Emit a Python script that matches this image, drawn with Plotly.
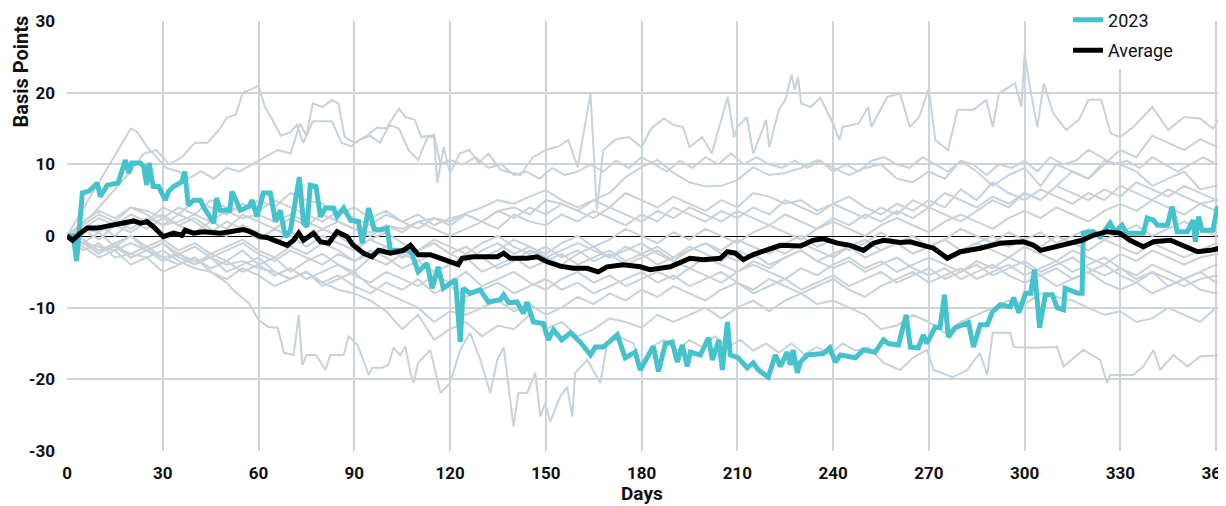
import plotly.graph_objects as go

# ---------------- data ----------------
# 2023 (day, basis points)
Y2023 = [(0,0),(2,0),(3,-3.5),(4.8,6.0),(7,6.3),(9.5,7.4),(10.4,5.5),(12.6,7.1),(16,7.4),(18.3,10.6),
 (19.3,8.8),(20.3,10.2),(23,10.2),(24,9.7),(25,7.1),(25.7,10.2),(27,6.9),(28.7,6.9),(30.8,5.0),(31.8,6.2),
 (33.4,6.9),(36,7.6),(36.9,9.0),(38,4.3),(39.7,5.0),(41.8,5.0),(42.7,4.1),(44.9,2.7),(46,1.8),(46.8,5.3),
 (48,3.6),(51,3.6),(51.7,6.2),(54.3,3.6),(57,4.1),(58,5.0),(59.5,2.7),(61.5,6.0),(63.7,6.0),(65.3,2.0),
 (66.8,3.6),(68.4,-0.1),(70,0.8),(72.8,8.2),(74.1,1.8),(75.2,1.3),(76.2,7.1),(78,6.9),(79.4,2.7),(81,3.9),
 (83.5,3.9),(84.6,2.7),(86.7,3.9),(88.8,2.2),(91.3,2.0),(92.5,-1.0),(94.5,3.9),(96.2,1.0),(98,0.8),(100.3,1.1),
 (101.3,-2.0),(106.6,-2.0),(108,-2.4),(110,-5.0),(112.8,-3.8),(114.4,-7.3),(116.3,-4.3),(117.9,-7.3),(120,-6.6),
 (121.7,-6.1),(123.2,-14.8),(124.1,-7.3),(126.3,-8.0),(129.4,-7.5),(132,-9.2),(135.7,-8.9),(136.8,-8.2),
 (138.3,-9.3),(141,-9.2),(143,-10.8),(144.1,-9.2),(146.1,-12.0),(149.2,-12.2),(150.8,-14.5),(152.4,-13.1),
 (155,-14.5),(157.7,-13.5),(160.8,-14.8),(164,-16.6),(165.5,-15.5),(168,-15.5),(172.4,-13.8),(174.9,-17.0),
 (178,-16.2),(179.6,-18.7),(181.8,-16.8),(183.7,-15.4),(185.3,-18.9),(187.5,-15.0),(189.6,-14.8),(191.2,-17.6),
 (192.8,-15.2),(194.3,-18.2),(195.3,-16.2),(198.4,-16.6),(201,-14.2),(202.2,-17.3),(204.2,-14.5),(205.3,-18.7),
 (206.9,-12.0),(207.8,-16.6),(210.3,-17.0),(213.1,-18.4),(215,-17.7),(216.6,-18.7),(219.7,-19.7),(221.9,-16.6),
 (223.5,-18.2),(225.6,-16.2),(226.6,-18.0),(227.5,-15.9),(228.8,-19.1),(229.8,-17.6),(231.9,-16.6),(236.9,-16.4),
 (239,-15.6),(240.7,-17.6),(242.3,-16.6),(247,-17.0),(249.5,-15.9),(253.2,-16.2),(255.8,-14.5),(257.3,-15.0),
 (260.5,-15.2),(262.9,-11.0),(264.2,-15.5),(266.7,-15.6),(268.3,-13.8),(269.4,-15.0),(272,-12.7),(273.5,-12.8),
 (274.9,-8.2),(276.1,-14.1),(278.3,-12.8),(282.4,-12.1),(284,-15.5),(286.1,-12.4),(288.3,-12.4),(289.9,-10.6),
 (292.4,-9.6),(295.5,-9.9),(296.6,-8.6),(298.2,-10.7),(300.3,-8.0),(301.9,-8.0),(303.1,-4.7),(304.7,-12.8),
 (306.5,-8.2),(308.7,-8.2),(310.2,-10.0),(312.2,-10.3),(312.7,-7.3),(316.8,-8.0),(318,-8.0),(318.4,0.4),
 (321.5,0.6),(323.7,-0.1),(326.8,1.8),(328.4,0.6),(330.5,1.5),(332,0.4),(337.2,0.4),(338.4,2.5),(340.4,2.2),
 (341.6,1.5),(344.7,1.5),(346.2,4.1),(347.8,0.6),(351,0.6),(352.8,2.2),(353.5,-0.8),(354.5,2.7),(355.6,0.8),
 (359,0.8),(360.4,4.1),(361.9,3.2),(363.2,4.1),(365,4.0)]

# Average of all years (day, basis points)
AVERAGE = [(0,0),(1.7,-0.6),(4.2,0.4),(6.3,1.1),(9.5,1.1),(12.6,1.4),(14.6,1.5),(17.7,1.8),(20.9,2.1),(23,1.8),
 (25,2.0),(27.1,1.3),(30.2,-0.1),(33.4,0.4),(36,0.1),(37,0.8),(39.7,0.4),(42.7,0.6),(48,0.4),(51,0.6),
 (55.3,0.9),(57.4,0.6),(60.6,-0.1),(62.7,-0.2),(65.8,-0.8),(69,-1.3),(71,-0.6),(72.6,0.4),(74.1,-0.6),
 (77.2,0.4),(79.4,-0.8),(82,-1.0),(84.6,0.6),(87.8,-0.1),(89.7,-1.3),(92.9,-2.4),(95.6,-2.9),(97.6,-2.0),
 (101.3,-2.4),(105.4,-2.0),(107.6,-1.3),(110,-2.6),(113.8,-2.6),(117,-3.1),(120,-3.6),(122.6,-4.0),(123.8,-3.1),
 (127.4,-2.9),(131.7,-2.9),(134.8,-2.9),(136.8,-2.4),(138.9,-3.1),(144.1,-3.1),(147.3,-2.9),(150.4,-3.6),
 (154.5,-4.2),(158.6,-4.5),(162.9,-4.5),(166.4,-5.0),(169.2,-4.3),(174.3,-4.0),(179.6,-4.3),(182.7,-4.7),
 (189,-4.3),(195.2,-3.1),(199.4,-3.3),(204.7,-3.1),(206.9,-2.2),(209.4,-2.4),(211.9,-3.3),(215,-2.6),
 (219.4,-2.0),(223.5,-1.3),(229.8,-1.4),(233.8,-0.6),(237,-0.4),(241.3,-1.0),(245.4,-1.3),(249.5,-2.0),
 (252.6,-1.0),(255.8,-0.6),(261.1,-0.9),(264.2,-0.8),(267.3,-1.2),(271.5,-1.7),(275.8,-3.1),(279.9,-2.2),
 (286.1,-1.7),(292.4,-1.0),(299.6,-0.8),(302.8,-1.3),(305,-2.0),(310.2,-1.5),(315.3,-1.0),(318,-0.6),
 (321.5,0.1),(325.8,0.6),(329.9,0.4),(333,-0.6),(337.2,-1.5),(340.4,-0.8),(345.7,-0.6),(349.8,-1.3),
 (354.2,-2.2),(358.2,-2.0),(361.3,-1.7),(363.2,-2.2),(365,-2.2)]

# Historical years, irregular samples (day, basis points)
HIST_U1 = [(0,0),(4,1.5),(8,3),(12,5),(16,7),(20,9),(24,11.5),(28,12),(32,10),(36,11),(40,13),(44,13),(48,15),
 (50,16.5),(53,17),(55,20),(58,20.5),(60,21),(62,18),(64,16.5),(67,14),(70,14.5),(72,15.5),(74,13),(77,16),
 (80,16),(83,16),(86,13),(89,12.5),(92,13.5),(95,14),(98,13),(101,15.5),(104,15),(107,12),(110,10.6),(113,13.8),
 (115,13.8),(116,7.4),(118,12.4),(120,8.8),(123,11.5),(126,12),(129,10.2),(132,11.5),(136,9.2),(142,8.5),
 (146,11),(150,12),(154,12.5),(157,13.4),(160,9.6),(164,19.9),(166,3.6),(168,12),(172,13.5),(176,13.8),
 (180,12.4),(183,15),(187,16.4),(190,15.5),(193,15.2),(195,12.4),(199,13.8),(202,11.5),(207,19.4),(209,13.8),
 (210,15.2),(213,16.6),(215,11.5),(219,16.2),(220,12.4),(223,17.6),(225,19),(227,22.5),(228,20.4),(229,22.2),
 (230,18.5),(233,18),(236,19.3),(240,15.7),(242,13.4),(243,15.2),(248,15.7),(251,18),(252,15.2),(257,19.4),
 (261,19.9),(264,15.2),(267,16.6),(270,20.6),(272,13.4),(276,12),(279,17.6),(284,17.6),(288,19),(290,15.2),
 (292,19.9),(297,21.3),(299,18),(300,25.5),(302,19.9),(304,15.2),(306,21.3),(309,17.1),(313,14.8),(317,16.2),
 (320,19),(324,19),(327,14.3),(330,13.8),(334,15.2),(340,18),(345,14.8),(350,16.6),(355,16.4),(359,15),
 (362,17.1),(365,16.5)]

HIST_U2 = [(0,0),(4,3),(8,6),(12,9),(16,12),(20,15),(22,14.5),(25,12.5),(28,11),(31,9.5),(35,9),(38,8),(42,9),
 (46,8),(50,9.5),(54,9),(58,10),(62,11),(66,12),(70,11.5),(73,15.7),(75,14),(77,18.5),(80,18),(83,19),
 (85,18.5),(87,13.8),(90,13),(94,14),(97,15.1),(100,15),(104,17.8),(106,16.6),(109,16.2),(111,13.8),(115,14.1),
 (117,10),(120,10.6),(124,10),(128,11),(132,9.5),(136,10),(140,8.5),(144,9),(148,8),(152,9.5),(156,8.5),
 (160,9),(164,10),(168,9),(172,10.5),(176,9.5),(180,11),(184,10),(188,9),(192,10.5),(196,9.5),(200,11),
 (204,10),(208,11.5),(212,10),(216,11),(220,10),(224,9.5),(228,10.5),(232,9.5),(236,10.5),(240,9),(244,10),
 (248,9),(252,10.5),(256,11),(260,10),(264,9.5),(268,11),(272,10),(276,9),(280,10.5),(284,10),(288,8.5),
 (292,10),(296,9.5),(300,10.5),(304,9),(308,11),(312,10),(316,10.5),(320,12),(324,11),(328,10),(332,10.5),
 (336,9.5),(340,11),(344,10),(348,9),(352,10),(356,11),(360,10),(365,10.5)]

HIST_L1 = [(0,0),(5,-1),(10,-2),(15,-1.5),(20,-2.5),(25,-3),(30,-2),(35,-3.5),(40,-4.5),(45,-5),(50,-6.5),
 (52,-7.5),(57,-9.4),(60,-11.7),(63,-12.7),(66,-12.8),(68,-16.3),(71,-16.6),(72.6,-11),(73.7,-18),(75,-16.6),
 (78,-16.6),(81,-18.7),(82.5,-16.6),(86.7,-16.6),(88.2,-14),(91,-15.2),(93,-17.5),(94.5,-19.4),(95.6,-18.4),
 (98.7,-18.4),(100.7,-18),(102.3,-15.6),(104.4,-16.6),(106,-15.4),(107.6,-19.1),(108.6,-20.5),(110,-17.7),
 (113.8,-15.9),(117,-21.9),(120,-20.5),(123.2,-15.9),(126.3,-13.5),(129.5,-17.3),(132.6,-21.9),(134.8,-17.3),
 (136.8,-15.5),(139.9,-26.6),(141.4,-21.9),(144.2,-21.9),(146.7,-19.1),(148.3,-25.2),(149.8,-23.3),
 (151.4,-25.9),(154.5,-22.4),(156.7,-21.1),(158.3,-25.2),(159.2,-19.1),(163,-17.3),(167.1,-20.5),(169.2,-15),
 (173.3,-14.1),(177.5,-15),(179.6,-18.2),(183,-15.5),(187,-14.5),(191,-16),(195,-14.5),(199,-15.5),(203,-14),
 (207,-15.5),(211,-14.5),(215,-16),(219,-15),(223,-16.3),(227,-15),(231,-16.5),(235,-15.5),(239,-16.5),
 (243,-15),(247,-16),(251,-15.5),(255.8,-17.7),(261,-18.7),(265,-17),(269.4,-15.9),(271.5,-18.7),(277.5,-19.7),
 (282,-18.7),(286,-16.3),(288.3,-19.4),(290,-13.5),(295.5,-13.5),(296.6,-15.5),(302.9,-15.6),(310.2,-15.5),
 (312.2,-18.2),(318.4,-15.9),(323.7,-17.3),(325.8,-20.5),(326.8,-19.4),(334,-19.4),(337.2,-18.2),(340.4,-15.9),
 (342.5,-18.7),(346.6,-16.6),(351,-18.2),(355,-16.8),(361.3,-16.6),(365,-17)]

# Historical years sampled every 5 days (day 0, 5, ..., 365)
DAYS5 = list(range(0, 370, 5))
HIST_M1 = [0,1,0.5,2,1,2.5,1.5,2,3,2, 3.5,2.5,3,2,3,2,1,2,1,0.5, 1.5,1,2,2.5,2,3.2,4,5,4.5,5.5,
 6.4,5,4,5,6,8.2,9.6,10.6,8.8,7.5, 6.9,7,7.8,9.6,8.5,8.8,9.5,10.6,9.6,8.5, 9.5,10,8,7.5,9,8,10.5,9,7,8.5,
 9.5,7,10,9,8,10.5,10,9,7,8, 9,6.5,7,6]
HIST_M2 = [0,1.5,3,2,4,3.5,2.5,4,3,5, 4,3.5,5,4,6,5,4.5,3,4,2.5, 3.5,2,3,1.5,2.5,3,2,3.5,4,3,
 5,4.5,3.5,5,4,6,5,4,5.5,4.5, 3.5,5,4,6,5.5,4.5,5,3.5,4.5,5.5, 4,3,4.5,3.5,5,4,6.5,5,7.5,6,
 5,6.5,5.5,4.5,6,5,7,6,5,6.5, 5.5,4.5,5,4]
HIST_M3 = [0,-1,0.5,-1.5,0,-2,-1,-2.5,-1.5,-3, -2,-1,-2.5,-3.5,-2,-3,-4,-2.5,-3.5,-2,
 -3,-4.5,-3.5,-2.5,-4,-3,-5,-4,-3,-4.5, -3.5,-2.5,-4,-3,-2,-3.5,-2.5,-4,-3,-1.5,
 -2.5,-3.5,-2,-3,-1.5,-2.5,-1,-2,-3,-1.5, -0.5,-2,-1,-2.5,-1.5,-3,-2,-1,-2,-3,
 -1.5,-2.5,-3.5,-2,-3,-4,-2.5,-3.5,-2,-3, -4,-3,-2.5,-3]
HIST_M4 = [0,-2,-1,-3,-2.5,-1.5,-3,-4,-3,-4.5, -3.5,-5,-4,-5.5,-4.5,-6,-5,-4,-5.5,-6.5,
 -5,-6,-7,-5.5,-6.5,-5,-7,-6,-5,-6.5, -7.5,-6,-5,-6.5,-5.5,-7,-6,-5,-6,-4.5,
 -5.5,-6.5,-5,-4,-5,-6,-4.5,-5.5,-4,-3, -4.5,-3.5,-5,-4,-3,-4,-5,-3.5,-4.5,-3,
 -4,-5.5,-4.5,-6,-5,-4,-5.5,-6.5,-5,-6, -7,-6,-5.5,-6]
HIST_M5 = [0,0.5,1.5,0,2,1,2.5,1.5,0.5,2, 1,3,2,1,2.5,1.5,3,2,1,0, 1.5,0.5,2,1,0,1,2,1,3,2,
 1.5,3,2,3.5,2.5,1.5,3,2,4,3, 2,3.5,2.5,4,3,5,4,3,4.5,3.5, 2.5,4,3,5,4,6,5,4,5.5,4.5,
 6,5,7,6,5,6.5,5.5,7.5,6.5,5.5, 7,6,5,6]
HIST_M6 = [0,-1.5,-3,-2,-4,-3,-5,-4,-3,-5, -6,-4.5,-5.5,-7,-6,-5,-6.5,-5.5,-7,-8,
 -6.5,-7.5,-6,-8,-7,-8.5,-7.5,-6.5,-8,-7, -6,-7.5,-6.5,-8,-7,-6,-5,-6.5,-5.5,-7,
 -6,-5,-6.5,-7.5,-6,-7,-8,-7,-6,-7.5, -8.5,-7,-6,-5,-6.5,-5.5,-4.5,-6,-5,-4,
 -5.5,-4.5,-3.5,-5,-4,-3,-4.5,-5.5,-4,-5, -6,-5,-4,-4.5]
HIST_M7 = [0,-0.5,-2,-1,0,-1.5,-0.5,-2,-1,-2.5, -1.5,-0.5,-2,-3,-1.5,-2.5,-1,-2,-3.5,-2.5,
 -1.5,-3,-2,-1,-2.5,-3.5,-2,-1,-2.5,-1.5, -3,-2,-1,-2,-3,-1.5,-2.5,-1.5,-3,-2,
 -1,-2.5,-3.5,-2.5,-4,-3,-2,-3.5,-4.5,-3.5, -5,-4,-3,-4.5,-5.5,-4.5,-6,-5,-4,-5.5,
 -6.5,-5.5,-7,-6,-5,-6.5,-7.5,-6.5,-8,-7, -6,-7.5,-8,-7.5]
HIST_M8 = [0,2,3.5,2.5,4,3,1.5,3,2,0.5, 2,1,-0.5,1,0,-1.5,0,-1,-2,-0.5, -1.5,-3,-2,-1,-2.5,-1.5,-3,-2,-0.5,-1.5,
 -2.5,-1,0,-1.5,-0.5,1,0,-1,0.5,-0.5, 1,0,-1,0.5,1.5,0.5,-0.5,1,2,1, 0,1.5,2.5,1.5,0.5,2,3,2,1,2.5,
 3.5,2.5,4,3,2,3.5,4.5,3.5,5,4, 3,4.5,3.5,4]
HIST_M9 = [0,-1,-2.5,-1,-3,-2,-1,-3,-4,-2.5, -3.5,-2,-4,-3,-5,-3.5,-2.5,-4,-5,-3,
 -4,-2.5,-3.5,-5,-4,-2.5,-3,-4.5,-3.5,-2, -3,-4,-2.5,-1.5,-3,-2,-1,-2.5,-3.5,-2,
 -1,-2,-0.5,-1.5,-2.5,-1,0,-1.5,-0.5,-2, -1,0.5,-1,0,-1.5,-0.5,1,0,-1,0.5,
 -0.5,-1.5,0,-1,-2,-0.5,-1.5,-2.5,-1,-2, -3,-2,-1,-2]
HIST_M10 = [0,1,-0.5,1.5,0.5,2,3,1.5,2.5,1, 0,1.5,0.5,-1,0.5,-0.5,1,0,-1.5,-0.5,
 0.5,-1,-2,-0.5,-1.5,-2.5,-1,0,-1.5,-2.5, -1.5,-3,-2,-3.5,-2.5,-4,-3,-2,-3.5,-4.5,
 -3,-4,-5,-3.5,-4.5,-3,-2,-3.5,-2.5,-1.5, -3,-2,-1,-2.5,-1.5,-0.5,-2,-1,0,-1.5,
 -0.5,0.5,-1,0,1,-0.5,0.5,1.5,0,1, 2,1,0,1]
HIST_U3 = [0,1,2.5,1.5,3,2,4,3,5,4, 3,4.5,3.5,5,4,3,2,3.5,2.5,1.5, 3,2,1,2.5,1.5,3,2,3.5,2.5,4,
 3,4.5,3.5,2.5,4,3,2,3.5,2.5,4, 3,2,3.5,2.5,1.5,3,2,1,2.5,1.5, 3,2,3.5,2.5,4,3,2,3.5,5,4,
 6,5,7,9,8,10,12,11,14,13, 12,13.5,12.5,12]
HIST_L2 = [0,-1,-1.5,-2,-1,-2,-3,-2.5,-3.5,-3, -4,-3.5,-4.5,-5,-6,-5,-6.5,-7.5,-8,-9,
 -10.5,-13,-11,-14.5,-13,-12,-14,-12.5,-13,-11, -13,-12,-14,-13,-11.5,-12,-12.8,-11,-12,-11,
 -10,-11.5,-10,-9,-10.5,-9,-8,-9.5,-9,-10, -11,-13,-12.5,-11,-12,-13.5,-12,-11,-10,-9,
 -9.5,-8,-8.5,-9,-10,-11,-10.5,-12,-11.5,-10, -11,-12,-10,-9.5]
HIST_L3 = [0,-1,-2,-1.5,-3,-2,-3.5,-2.5,-4,-3, -5,-4,-3,-5,-6,-5,-7,-6,-5,-7,
 -8,-9,-10,-12,-10.5,-11,-10,-9,-10.5,-9.5, -11,-10,-8.5,-9.5,-8,-9,-7.5,-8.5,-7,-8,
 -9,-7.5,-6.5,-8,-7,-6,-7.5,-6.5,-5.5,-7, -6,-5,-6.5,-5.5,-4.5,-6,-5,-4,-5.5,-4.5,
 -3.5,-5,-4,-3,-4.5,-5.5,-4.5,-6,-5,-7, -6,-5,-6.5,-6]

X_TICKS = [0, 30, 60, 90, 120, 150, 180, 210, 240, 270, 300, 330, 360]
X_GRID = [30, 60, 90, 120, 150, 180, 210, 240, 270, 300, 330, 360]
Y_TICKS = [-30, -20, -10, 0, 10, 20, 30]
Y_TICK_TEXT = ["-30", "-20", "-10", "0", "10", "20", "30"]

# ---------------- styles ----------------
GRAY = "#C9D2D9"
TEAL = "#45C2CC"
GRID = "#CDD5DB"
FONT = "Roboto"
INK = "#111111"

fig = go.Figure()

for series in [HIST_U1, HIST_U2, HIST_L1]:
    fig.add_trace(go.Scatter(x=[p[0] for p in series], y=[p[1] for p in series], mode="lines",
                             line=dict(color=GRAY, width=2), showlegend=False, hoverinfo="skip"))
for vals in [HIST_M1, HIST_M2, HIST_M3, HIST_M4, HIST_M5, HIST_M6, HIST_M7, HIST_M8, HIST_M9, HIST_M10,
             HIST_U3, HIST_L2, HIST_L3]:
    fig.add_trace(go.Scatter(x=DAYS5[:len(vals)], y=vals, mode="lines",
                             line=dict(color=GRAY, width=2), showlegend=False, hoverinfo="skip"))

fig.add_trace(go.Scatter(x=[p[0] for p in Y2023], y=[p[1] for p in Y2023], mode="lines", name="2023",
                         legendgroup="a", line=dict(color=TEAL, width=5)))
fig.add_trace(go.Scatter(x=[p[0] for p in AVERAGE], y=[p[1] for p in AVERAGE], mode="lines", name="Average",
                         legendgroup="b", line=dict(color="#000000", width=5)))

# the page adds an 8px body margin, so the figure is sized to fill the rest of the window
fig.update_layout(
    width=1218, height=498,
    margin=dict(l=59, r=0, t=13, b=55, autoexpand=False),
    paper_bgcolor="white", plot_bgcolor="white",
    font=dict(family=FONT, color=INK),
    legend=dict(x=0.8637, xanchor="left", y=1.045, yanchor="top", bgcolor="white",
                font=dict(family=FONT, size=18, color=INK), tracegroupgap=4, itemwidth=30),
    xaxis=dict(range=[0, 363.1], tickvals=X_TICKS, showgrid=False, automargin=False,
               zeroline=False, showline=False, ticks="", ticklabelstandoff=10,
               ticklabeloverflow="allow",
               tickfont=dict(family=FONT, size=17, weight="bold", color=INK),
               minor=dict(tickvals=X_GRID, showgrid=True, gridcolor=GRID, gridwidth=1.5, ticks="")),
    yaxis=dict(range=[-30, 30], tickvals=Y_TICKS, ticktext=Y_TICK_TEXT, showgrid=True, gridcolor=GRID,
               gridwidth=1.5, zeroline=True, zerolinecolor="#000000", zerolinewidth=1.2, automargin=False,
               showline=False, ticks="", ticklabelstandoff=11,
               tickfont=dict(family=FONT, size=17, weight="bold", color=INK)),
    annotations=[
        dict(text="Basis Points", x=-0.0401, y=0.8814, xref="paper", yref="paper", textangle=-90,
             xanchor="center", yanchor="middle", showarrow=False,
             font=dict(family=FONT, size=20, weight="bold", color=INK)),
        dict(text="Days", x=0.4957, y=-0.0698, xref="paper", yref="paper", xanchor="center",
             yanchor="top", showarrow=False, borderpad=0,
             font=dict(family=FONT, size=19, weight="bold", color=INK)),
    ],
)

fig.write_html("out.html")
